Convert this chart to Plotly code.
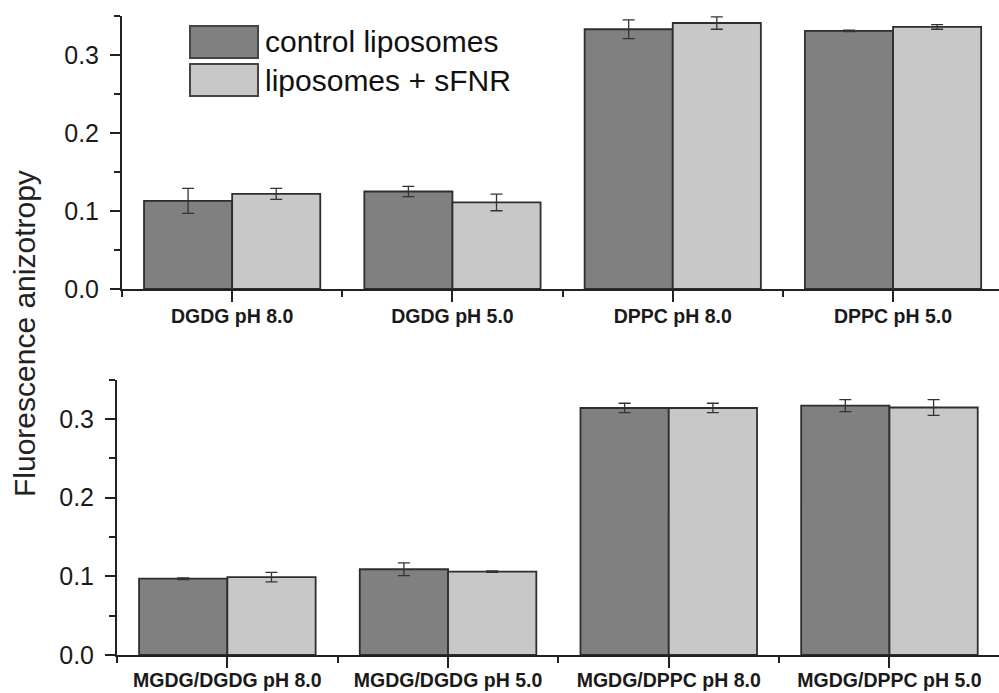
import plotly.graph_objects as go

# ---- data ----
categories_top = ["DGDG pH 8.0", "DGDG pH 5.0", "DPPC pH 8.0", "DPPC pH 5.0"]
control_top = [0.113, 0.125, 0.333, 0.331]
control_top_err = [0.016, 0.0065, 0.012, 0.001]
sfnr_top = [0.122, 0.111, 0.341, 0.336]
sfnr_top_err = [0.007, 0.0107, 0.008, 0.003]

categories_bottom = ["MGDG/DGDG pH 8.0", "MGDG/DGDG pH 5.0", "MGDG/DPPC pH 8.0", "MGDG/DPPC pH 5.0"]
control_bottom = [0.097, 0.109, 0.314, 0.317]
control_bottom_err = [0.001, 0.008, 0.006, 0.0076]
sfnr_bottom = [0.099, 0.106, 0.314, 0.3146]
sfnr_bottom_err = [0.006, 0.001, 0.006, 0.010]

series_names = ["control liposomes", "liposomes + sFNR"]
yticks = [0.0, 0.1, 0.2, 0.3]

# ---- style ----
DARK = "#808080"
LIGHT = "#c8c8c8"
EDGE = "#2e2e2e"
AX = "#222222"
FONT = "Liberation Sans, Arial, sans-serif"
W, H = 999, 693

fig = go.Figure()


def add_panel(cats, c_vals, c_err, s_vals, s_err, xa, ya):
    xs = list(range(len(cats)))
    for vals, errs, col, name in [(c_vals, c_err, DARK, series_names[0]),
                                  (s_vals, s_err, LIGHT, series_names[1])]:
        fig.add_trace(go.Bar(
            x=xs, y=vals, name=name, showlegend=False,
            marker=dict(color=col, line=dict(color=EDGE, width=1.8)),
            error_y=dict(type="data", array=errs, visible=True,
                         color="#333333", thickness=1.3, width=6),
            xaxis=xa, yaxis=ya,
        ))


add_panel(categories_top, control_top, control_top_err, sfnr_top, sfnr_top_err, "x", "y")
add_panel(categories_bottom, control_bottom, control_bottom_err, sfnr_bottom, sfnr_bottom_err, "x2", "y2")

px_per_cat_top = 220.3
px_per_cat_bot = 220.7
left_top, left_bot = 122, 117


def xaxis_cfg(cats, left, ppc, anchor, standoff):
    return dict(
        domain=[left / W, 1],
        range=[-0.5, -0.5 + (W - left) / ppc],
        tickmode="array", tickvals=list(range(len(cats))), ticktext=cats,
        ticks="outside", ticklen=11, tickwidth=1.8, tickcolor=AX,
        minor=dict(ticks="outside", tick0=0.5, dtick=1, ticklen=6, tickwidth=1.8, tickcolor=AX),
        showline=True, linecolor=AX, linewidth=2,
        showgrid=False, zeroline=False, anchor=anchor, automargin=False,
        tickfont=dict(family=FONT, size=19.5, color="#1a1a1a", weight="bold"),
        ticklabelstandoff=standoff,
    )


def yaxis_cfg(y0px, ppu, anchor):
    top_px = y0px - 0.35 * ppu
    return dict(
        domain=[(H - y0px) / H, (H - top_px) / H],
        range=[0, 0.35],
        tickmode="array", tickvals=yticks, ticktext=[f"{v:.1f}" for v in yticks],
        ticks="outside", ticklen=10, tickwidth=1.8, tickcolor=AX,
        minor=dict(ticks="outside", tick0=0, dtick=0.05, ticklen=6, tickwidth=1.8, tickcolor=AX),
        showline=True, linecolor=AX, linewidth=2,
        showgrid=False, zeroline=False, anchor=anchor, automargin=False,
        tickfont=dict(family=FONT, size=25, color="#1a1a1a"),
        ticklabelstandoff=6,
    )


fig.update_layout(
    width=W, height=H, autosize=False,
    margin=dict(l=0, r=0, t=0, b=0, pad=0),
    paper_bgcolor="white", plot_bgcolor="rgba(0,0,0,0)",
    barmode="group", bargap=0.2, bargroupgap=0,
    showlegend=False,
    xaxis=xaxis_cfg(categories_top, left_top, px_per_cat_top, "y", -2),
    yaxis=yaxis_cfg(289, 780, "x"),
    xaxis2=xaxis_cfg(categories_bottom, left_bot, px_per_cat_bot, "y2", -4),
    yaxis2=yaxis_cfg(655, 786.7, "x2"),
)

# legend drawn as boxes + labels
legend_rows = [(26, 58, DARK, series_names[0]), (64, 96, LIGHT, series_names[1])]
for y_top, y_bot, col, name in legend_rows:
    fig.add_shape(type="rect", xref="paper", yref="paper",
                  x0=190 / W, x1=258 / W, y0=1 - y_bot / H, y1=1 - y_top / H,
                  fillcolor=col, line=dict(color="#444444", width=2))
    fig.add_annotation(xref="paper", yref="paper", x=263 / W, y=1 - ((y_top + y_bot) / 2) / H,
                       xanchor="left", yanchor="middle", showarrow=False, text=name,
                       font=dict(family=FONT, size=30, color="#111111"))

# y-axis title
fig.add_annotation(xref="paper", yref="paper", x=24 / W, y=1 - 334 / H,
                   xanchor="center", yanchor="middle", showarrow=False,
                   text="Fluorescence anizotropy", textangle=-90,
                   font=dict(family=FONT, size=30, color="#222222"))

page_css = "margin:0;padding:0;overflow:hidden;width:999px;height:693px;"
fig.write_html(
    "out.html",
    config={"displayModeBar": False},
    post_script=(
        "document.documentElement.style.cssText='" + page_css + "';"
        "document.body.style.cssText='" + page_css + "';"
    ),
)
